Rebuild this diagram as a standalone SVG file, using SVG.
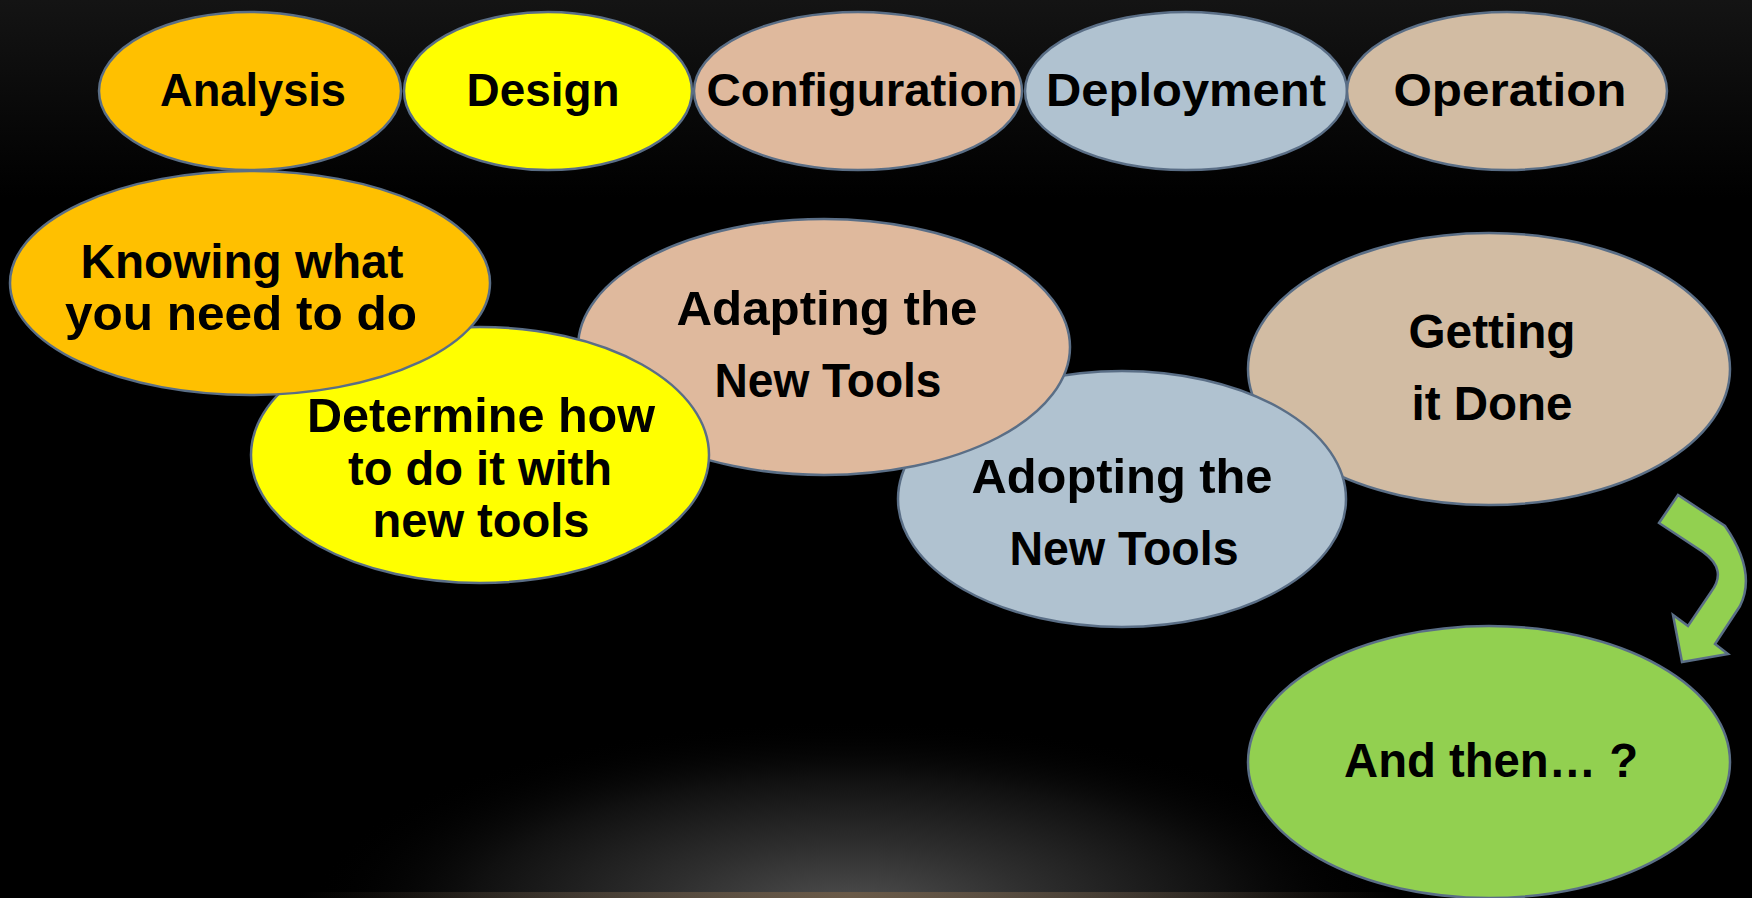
<svg xmlns="http://www.w3.org/2000/svg" width="1752" height="898" viewBox="0 0 1752 898">
<style>
.n{stroke:#5a6e86;stroke-width:2.5}
.t{font-family:"Liberation Sans",Arial,sans-serif;font-weight:bold;fill:#000;text-anchor:middle}
.s{font-size:46px}
.b{font-size:48px}
.orange{fill:#ffc000}
.yellow{fill:#ffff00}
.peach{fill:#dfb99d}
.blue{fill:#b0c2d0}
.tan{fill:#d2bca3}
.green{fill:#92d050}
</style>
<defs>
<linearGradient id="bg" x1="0" y1="0" x2="0" y2="1">
<stop offset="0" stop-color="#141414"/>
<stop offset="0.22" stop-color="#000"/>
<stop offset="1" stop-color="#000"/>
</linearGradient>
<radialGradient id="glow" cx="0.5" cy="0.5" r="0.5">
<stop offset="0" stop-color="#505050"/>
<stop offset="0.35" stop-color="#2e2e2e"/>
<stop offset="0.7" stop-color="#101010"/>
<stop offset="1" stop-color="#000" stop-opacity="0"/>
</radialGradient>
<linearGradient id="band" x1="0" y1="0" x2="1" y2="0">
<stop offset="0" stop-color="#5a4a3a" stop-opacity="0"/>
<stop offset="0.5" stop-color="#6a5a48"/>
<stop offset="1" stop-color="#5a4a3a" stop-opacity="0"/>
</linearGradient>
</defs>
<rect width="1752" height="898" fill="url(#bg)"/>
<ellipse cx="850" cy="910" rx="540" ry="190" fill="url(#glow)"/>
<rect x="300" y="892" width="1100" height="6" fill="url(#band)"/>

<g id="analysis"><ellipse class="n orange" cx="250" cy="91" rx="151" ry="79"/><text class="t s" x="253" y="106" textLength="186" lengthAdjust="spacingAndGlyphs">Analysis</text></g>
<g id="design"><ellipse class="n yellow" cx="548" cy="91" rx="144" ry="79"/><text class="t s" x="543" y="106" textLength="153" lengthAdjust="spacingAndGlyphs">Design</text></g>
<g id="configuration"><ellipse class="n peach" cx="858" cy="91" rx="164" ry="79"/><text class="t s" x="862" y="106" textLength="311" lengthAdjust="spacingAndGlyphs">Configuration</text></g>
<g id="deployment"><ellipse class="n blue" cx="1186" cy="91" rx="161" ry="79"/><text class="t s" x="1186" y="106" textLength="280" lengthAdjust="spacingAndGlyphs">Deployment</text></g>
<g id="operation"><ellipse class="n tan" cx="1507" cy="91" rx="160" ry="79"/><text class="t s" x="1510" y="106" textLength="233" lengthAdjust="spacingAndGlyphs">Operation</text></g>

<g id="getting-done"><ellipse class="n tan" cx="1489" cy="369" rx="241" ry="136"/><text class="t b" x="1492" y="348" textLength="167" lengthAdjust="spacingAndGlyphs">Getting</text><text class="t b" x="1492" y="420" textLength="161" lengthAdjust="spacingAndGlyphs">it Done</text></g>
<g id="adopting"><ellipse class="n blue" cx="1122" cy="499" rx="224" ry="128"/><text class="t b" x="1122" y="493" textLength="301" lengthAdjust="spacingAndGlyphs">Adopting the</text><text class="t b" x="1124" y="565" textLength="229" lengthAdjust="spacingAndGlyphs">New Tools</text></g>
<g id="adapting"><ellipse class="n peach" cx="824" cy="347" rx="246" ry="128"/><text class="t b" x="827" y="325" textLength="301" lengthAdjust="spacingAndGlyphs">Adapting the</text><text class="t b" x="828" y="397" textLength="227" lengthAdjust="spacingAndGlyphs">New Tools</text></g>
<g id="determine"><ellipse class="n yellow" cx="480" cy="455" rx="229" ry="128"/><text class="t b" x="481" y="432" textLength="348" lengthAdjust="spacingAndGlyphs">Determine how</text><text class="t b" x="480" y="485" textLength="264" lengthAdjust="spacingAndGlyphs">to do it with</text><text class="t b" x="481" y="537" textLength="217" lengthAdjust="spacingAndGlyphs">new tools</text></g>
<g id="knowing"><ellipse class="n orange" cx="250" cy="283" rx="240" ry="112"/><text class="t b" x="242" y="278" textLength="323" lengthAdjust="spacingAndGlyphs">Knowing what</text><text class="t b" x="241" y="330" textLength="352" lengthAdjust="spacingAndGlyphs">you need to do</text></g>
<g id="and-then"><ellipse class="n green" cx="1489" cy="762" rx="241" ry="136"/><text class="t b" x="1491" y="777" textLength="294" lengthAdjust="spacingAndGlyphs">And then… ?</text></g>

<g id="connectors">
<path class="n green" stroke-linejoin="miter" d="M1678,495 L1659,523 L1703,552 Q1728,570 1711,592 L1688,626 L1673,615 L1682,662 L1728,654 L1715,644 L1740,606 Q1757,572 1725,526 Z"/>
</g>
</svg>
